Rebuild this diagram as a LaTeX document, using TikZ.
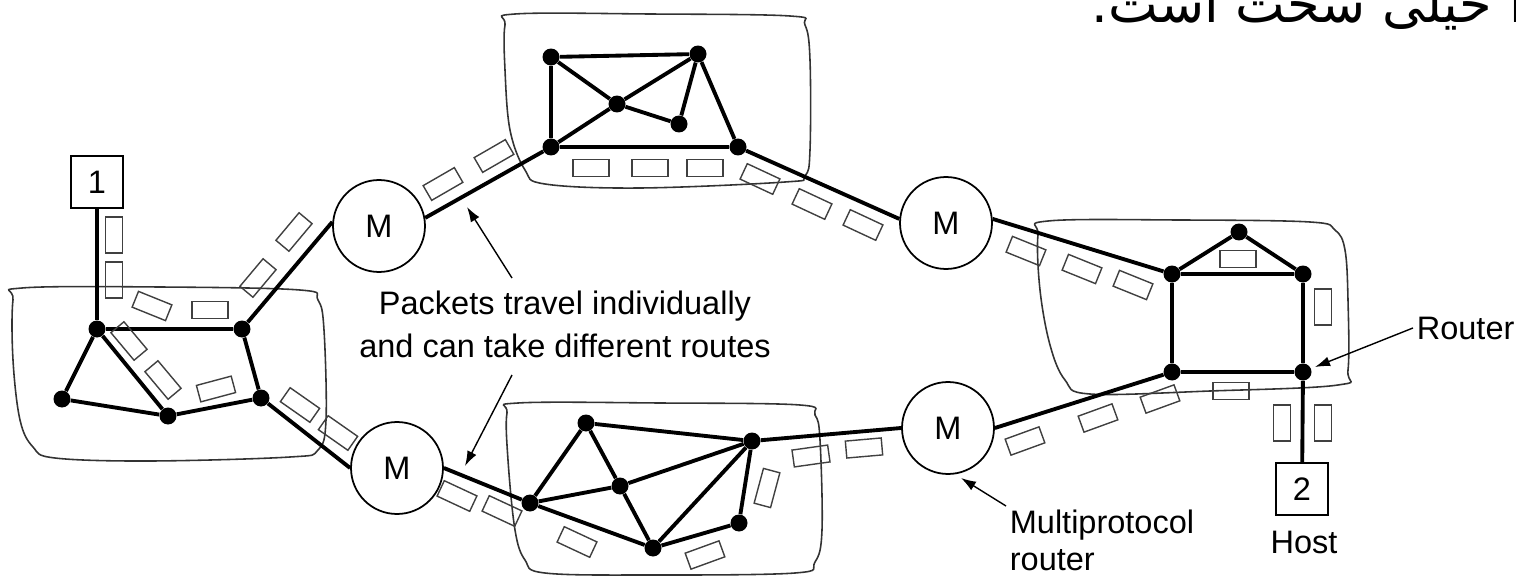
\documentclass[tikz,border=0pt]{standalone}
\usepackage{fontspec}
\setmainfont{Liberation Sans}
\newfontfamily\persianfont[Script=Arabic]{DejaVu Sans}
\TeXXeTstate=1
\usetikzlibrary{arrows.meta}

\begin{document}
\begin{tikzpicture}[x=0.02cm, y=-0.02cm,
    font=\fontsize{18.5}{24.4}\selectfont,
    dot/.style={circle, fill, inner sep=0pt, minimum size=0.34cm},
    mpr/.style={circle, draw, line width=1pt, minimum size=1.84cm, inner sep=0pt},
    hostbox/.style={rectangle, draw, line width=1pt, minimum size=1.03cm, inner sep=0pt},
    pkt/.style={rectangle, draw=black!75, line width=0.8pt, minimum width=0.72cm, minimum height=0.34cm, inner sep=0pt},
    wire/.style={line width=2.2pt},
    lan/.style={draw=black!80, line width=0.9pt},
    arr/.style={-{Latex[length=3mm,width=2mm]}, line width=0.8pt},
    lbl/.style={inner sep=2pt}]
    \useasboundingbox (0,0) rectangle (1516,578);

    % LAN outlines
    \draw[lan] plot[smooth cycle, tension=0.6] coordinates {(13,300) (22,288) (160,287) (300,290) (318,300) (324,330) (326,420) (318,450) (290,457) (150,461) (55,458) (33,447) (20,420) (13,360)};
    \draw[lan] plot[smooth cycle, tension=0.6] coordinates {(505,25) (515,14) (650,14) (790,16) (805,25) (810,60) (810,150) (805,176) (785,182) (640,188) (545,184) (525,170) (510,130) (505,70)};
    \draw[lan] plot[smooth cycle, tension=0.6] coordinates {(507,413) (518,403) (660,403) (800,405) (815,415) (820,440) (822,530) (815,562) (795,573) (650,575) (545,573) (525,560) (515,530) (508,460)};
    \draw[lan] plot[smooth cycle, tension=0.6] coordinates {(1038,235) (1048,221) (1180,220) (1310,222) (1335,230) (1345,250) (1348,300) (1348,370) (1338,385) (1210,391) (1090,394) (1065,380) (1050,345) (1040,290)};

    % hosts
    \node[hostbox] (host1) at (97,182) {1};
    \node[hostbox] (host2) at (1302,489) {2};
    \node[lbl, anchor=base] (hostlbl) at (1304,553) {Host};

    % multiprotocol routers
    \node[mpr] (m1) at (379,226) {M};
    \node[mpr] (m2) at (946,223) {M};
    \node[mpr] (m3) at (397,468) {M};
    \node[mpr] (m4) at (948,428) {M};

    % routers in the LANs
    \node[dot] (n1a) at (97,329) {};
    \node[dot] (n1b) at (242,329) {};
    \node[dot] (n1c) at (62,399) {};
    \node[dot] (n1d) at (168,416) {};
    \node[dot] (n1e) at (261,398) {};

    \node[dot] (n2a) at (551,57) {};
    \node[dot] (n2b) at (698,54) {};
    \node[dot] (n2c) at (617,104) {};
    \node[dot] (n2d) at (679,124) {};
    \node[dot] (n2e) at (551,147) {};
    \node[dot] (n2f) at (738,147) {};

    \node[dot] (n3a) at (530,503) {};
    \node[dot] (n3b) at (586,423) {};
    \node[dot] (n3c) at (620,486) {};
    \node[dot] (n3d) at (752,441) {};
    \node[dot] (n3e) at (653,548) {};
    \node[dot] (n3f) at (739,523) {};

    \node[dot] (n4a) at (1172,274) {};
    \node[dot] (n4b) at (1239,232) {};
    \node[dot] (n4c) at (1303,274) {};
    \node[dot] (n4d) at (1172,372) {};
    \node[dot] (n4e) at (1303,372) {};

    % links
    \draw[wire] (host1) -- (n1a);
    \draw[wire] (n1a) -- (n1b) -- (n1e) -- (n1d) -- (n1c) -- (n1a) -- (n1d);
    \draw[wire] (n1b) -- (m1.175);
    \draw[wire] (m1.10) -- (n2e);
    \draw[wire] (n2a) -- (n2b) -- (n2f) -- (n2e) -- (n2a);
    \draw[wire] (n2a) -- (n2c) -- (n2d) -- (n2b) -- (n2c) -- (n2e);
    \draw[wire] (n2f) -- (m2.175);
    \draw[wire] (m2.5) -- (n4a);
    \draw[wire] (n4a) -- (n4b) -- (n4c) -- (n4a) -- (n4d) -- (n4e) -- (n4c);
    \draw[wire] (n4e) -- (host2);
    \draw[wire] (n1e) -- (m3.west);
    \draw[wire] (m3.east) -- (n3a);
    \draw[wire] (n3a) -- (n3b) -- (n3d) -- (n3f) -- (n3e) -- (n3a);
    \draw[wire] (n3b) -- (n3c) -- (n3e) -- (n3d) -- (n3c) -- (n3a);
    \draw[wire] (n3d) -- (m4.west);
    \draw[wire] (m4.east) -- (n4d);

    % packets
    \foreach \px/\py/\pa [count=\i] in {114/235/90, 114/280/90, 152/306/-22, 210/310/0, 129/341/-50,
        163/380/-50, 216/389/15, 300/405/-35, 338/433/-35, 258/278/50, 294/232/50,
        443/184/30, 494/156/30, 591/168/0, 650/168/0, 705/168/0,
        760/179/-25, 812/204/-25, 863/225/-25, 1026/251/-22, 1082/269/-22, 1133/285/-22,
        1238/259/0, 1323/307/90, 1231/391/0, 1282/423/90, 1323/423/90,
        1160/399/20, 1098/418/20, 1025/441/20, 811/456/8, 864/448/5,
        767/488/75, 577/542/-25, 705/555/20, 457/496/-25, 502/511/-25}
        \node[pkt, rotate=\pa] (pk\i) at (\px,\py) {};

    % labels
    \node[lbl, align=center] (travel) at (565,324) {Packets travel individually\\and can take different routes};
    \node[lbl, anchor=base west] (router) at (1413,339) {Router};
    \node[lbl, align=left, anchor=north west, font=\fontsize{18.5}{21}\selectfont] (mprlbl) at (1006,506) {Multiprotocol\\router};
    \node[anchor=base east, inner sep=0pt, font=\persianfont\fontsize{30}{34}\selectfont] (fatext) at (1524,22) {\beginR ا خیلی سخت است.\endR};

    \coordinate (pkup0) at (512,278);
    \coordinate (pkup1) at (467,207);
    \coordinate (pkdn0) at (512,375);
    \coordinate (pkdn1) at (465,466);
    \coordinate (routtip) at (1315,367);
    \coordinate (mprtip) at (961,478);
    \draw[arr] (pkup0) -- (pkup1);
    \draw[arr] (pkdn0) -- (pkdn1);
    \draw[arr] (router.west) -- (routtip);
    \draw[arr] (mprlbl.north west) -- (mprtip);
\end{tikzpicture}
\end{document}
